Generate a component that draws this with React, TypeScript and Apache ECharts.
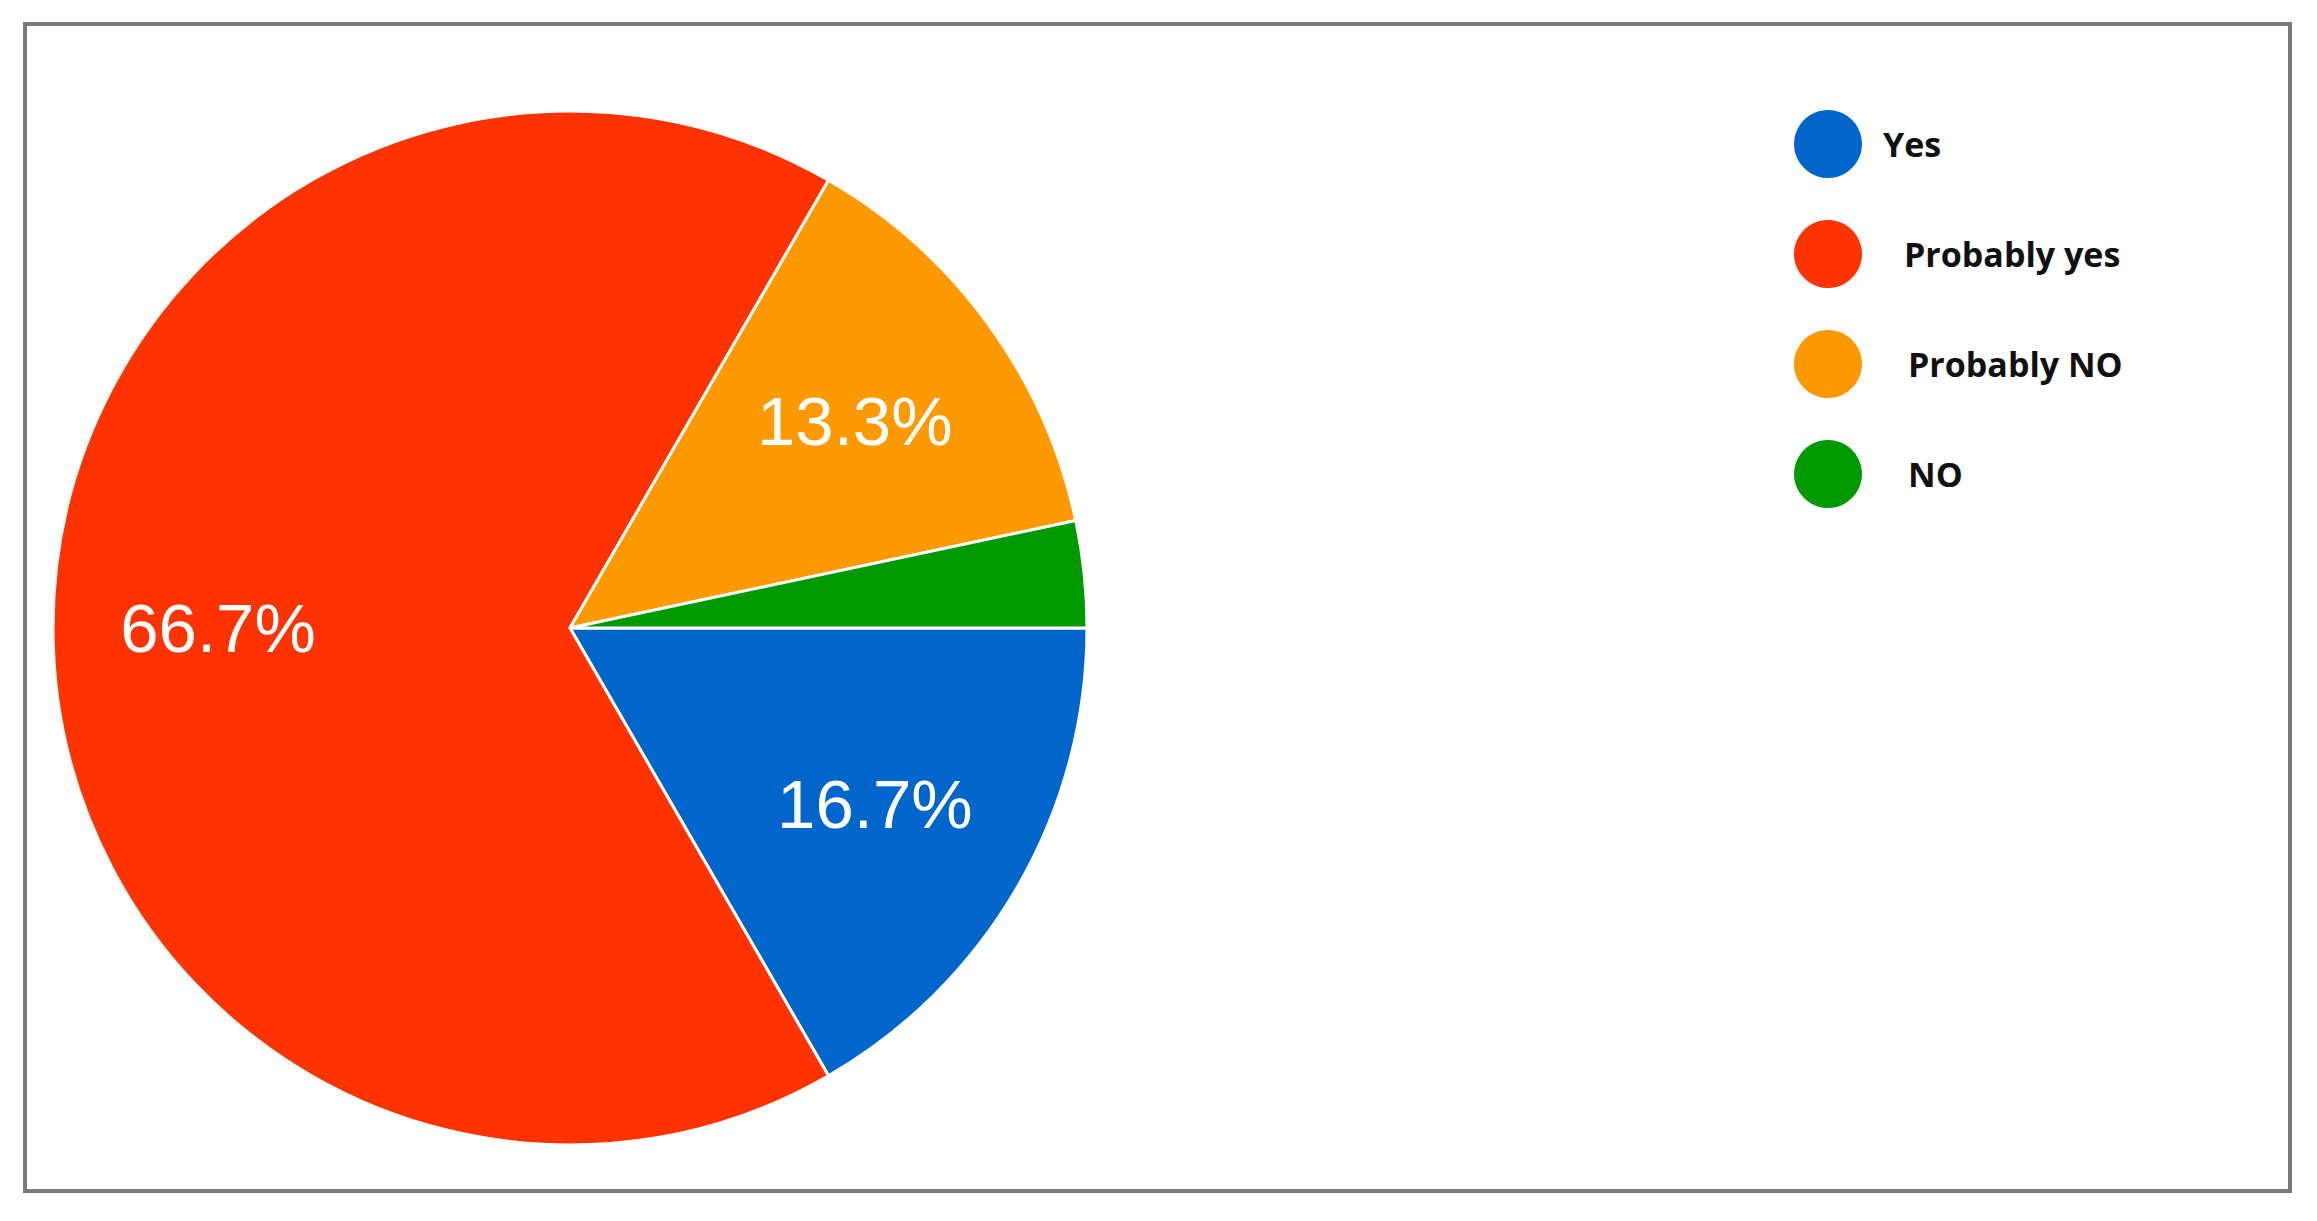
import React, { useEffect, useRef } from "react";
import * as echarts from "echarts";

const categories = ["Yes", "Probably yes", "Probably NO", "NO"];
const counts = [5, 20, 4, 1];
const colors = ["#0066CC", "#FF3300", "#FF9900", "#009900"];
const legendTextPad = [15, 36, 40, 40];

export default function App() {
  const ref = useRef<HTMLDivElement>(null);
  useEffect(() => {
    document.body.style.margin = "0";
    const chart = echarts.init(ref.current!, null, { renderer: "svg" });
    const data = categories.map((name, i) => ({
      name,
      value: counts[i],
      itemStyle: { color: colors[i] },
    }));
    chart.setOption({
      animation: false,
      backgroundColor: "#ffffff",
      legend: {
        orient: "vertical",
        left: 1792,
        top: 108,
        padding: 0,
        itemWidth: 70,
        itemHeight: 70,
        itemGap: 38,
        icon: "circle",
        selectedMode: false,
        textStyle: {
          fontFamily: "Open Sans",
          fontWeight: "bold",
          fontSize: 34,
          color: "#111111",
        },
        data: categories.map((name, i) => ({
          name,
          textStyle: { padding: [0, 0, 0, legendTextPad[i]] },
        })),
      },
      graphic: [
        {
          type: "rect",
          shape: { x: 25, y: 24, width: 2265, height: 1167 },
          style: { fill: "none", stroke: "#7a7a7a", lineWidth: 4 },
          silent: true,
        },
      ],
      series: [
        {
          type: "pie",
          center: [570, 628],
          radius: [0, 517],
          startAngle: 0,
          clockwise: true,
          silent: true,
          label: { show: false },
          labelLine: { show: false },
          itemStyle: { borderColor: "#ffffff", borderWidth: 3 },
          data,
        },
        {
          type: "pie",
          center: [570, 628],
          radius: [181, 517],
          startAngle: 0,
          clockwise: true,
          silent: true,
          legendHoverLink: false,
          itemStyle: { color: "rgba(0,0,0,0)" },
          label: {
            show: true,
            position: "inside",
            formatter: (p: any) => (p.value >= 2 ? p.percent.toFixed(1) + "%" : ""),
            color: "#ffffff",
            fontFamily: "Liberation Sans",
            fontSize: 69,
          },
          labelLine: { show: false },
          data: categories.map((name, i) => ({ name: name + " ", value: counts[i] })),
        },
      ],
    });
    return () => chart.dispose();
  }, []);
  return <div ref={ref} style={{ width: 2317, height: 1221 }} />;
}
